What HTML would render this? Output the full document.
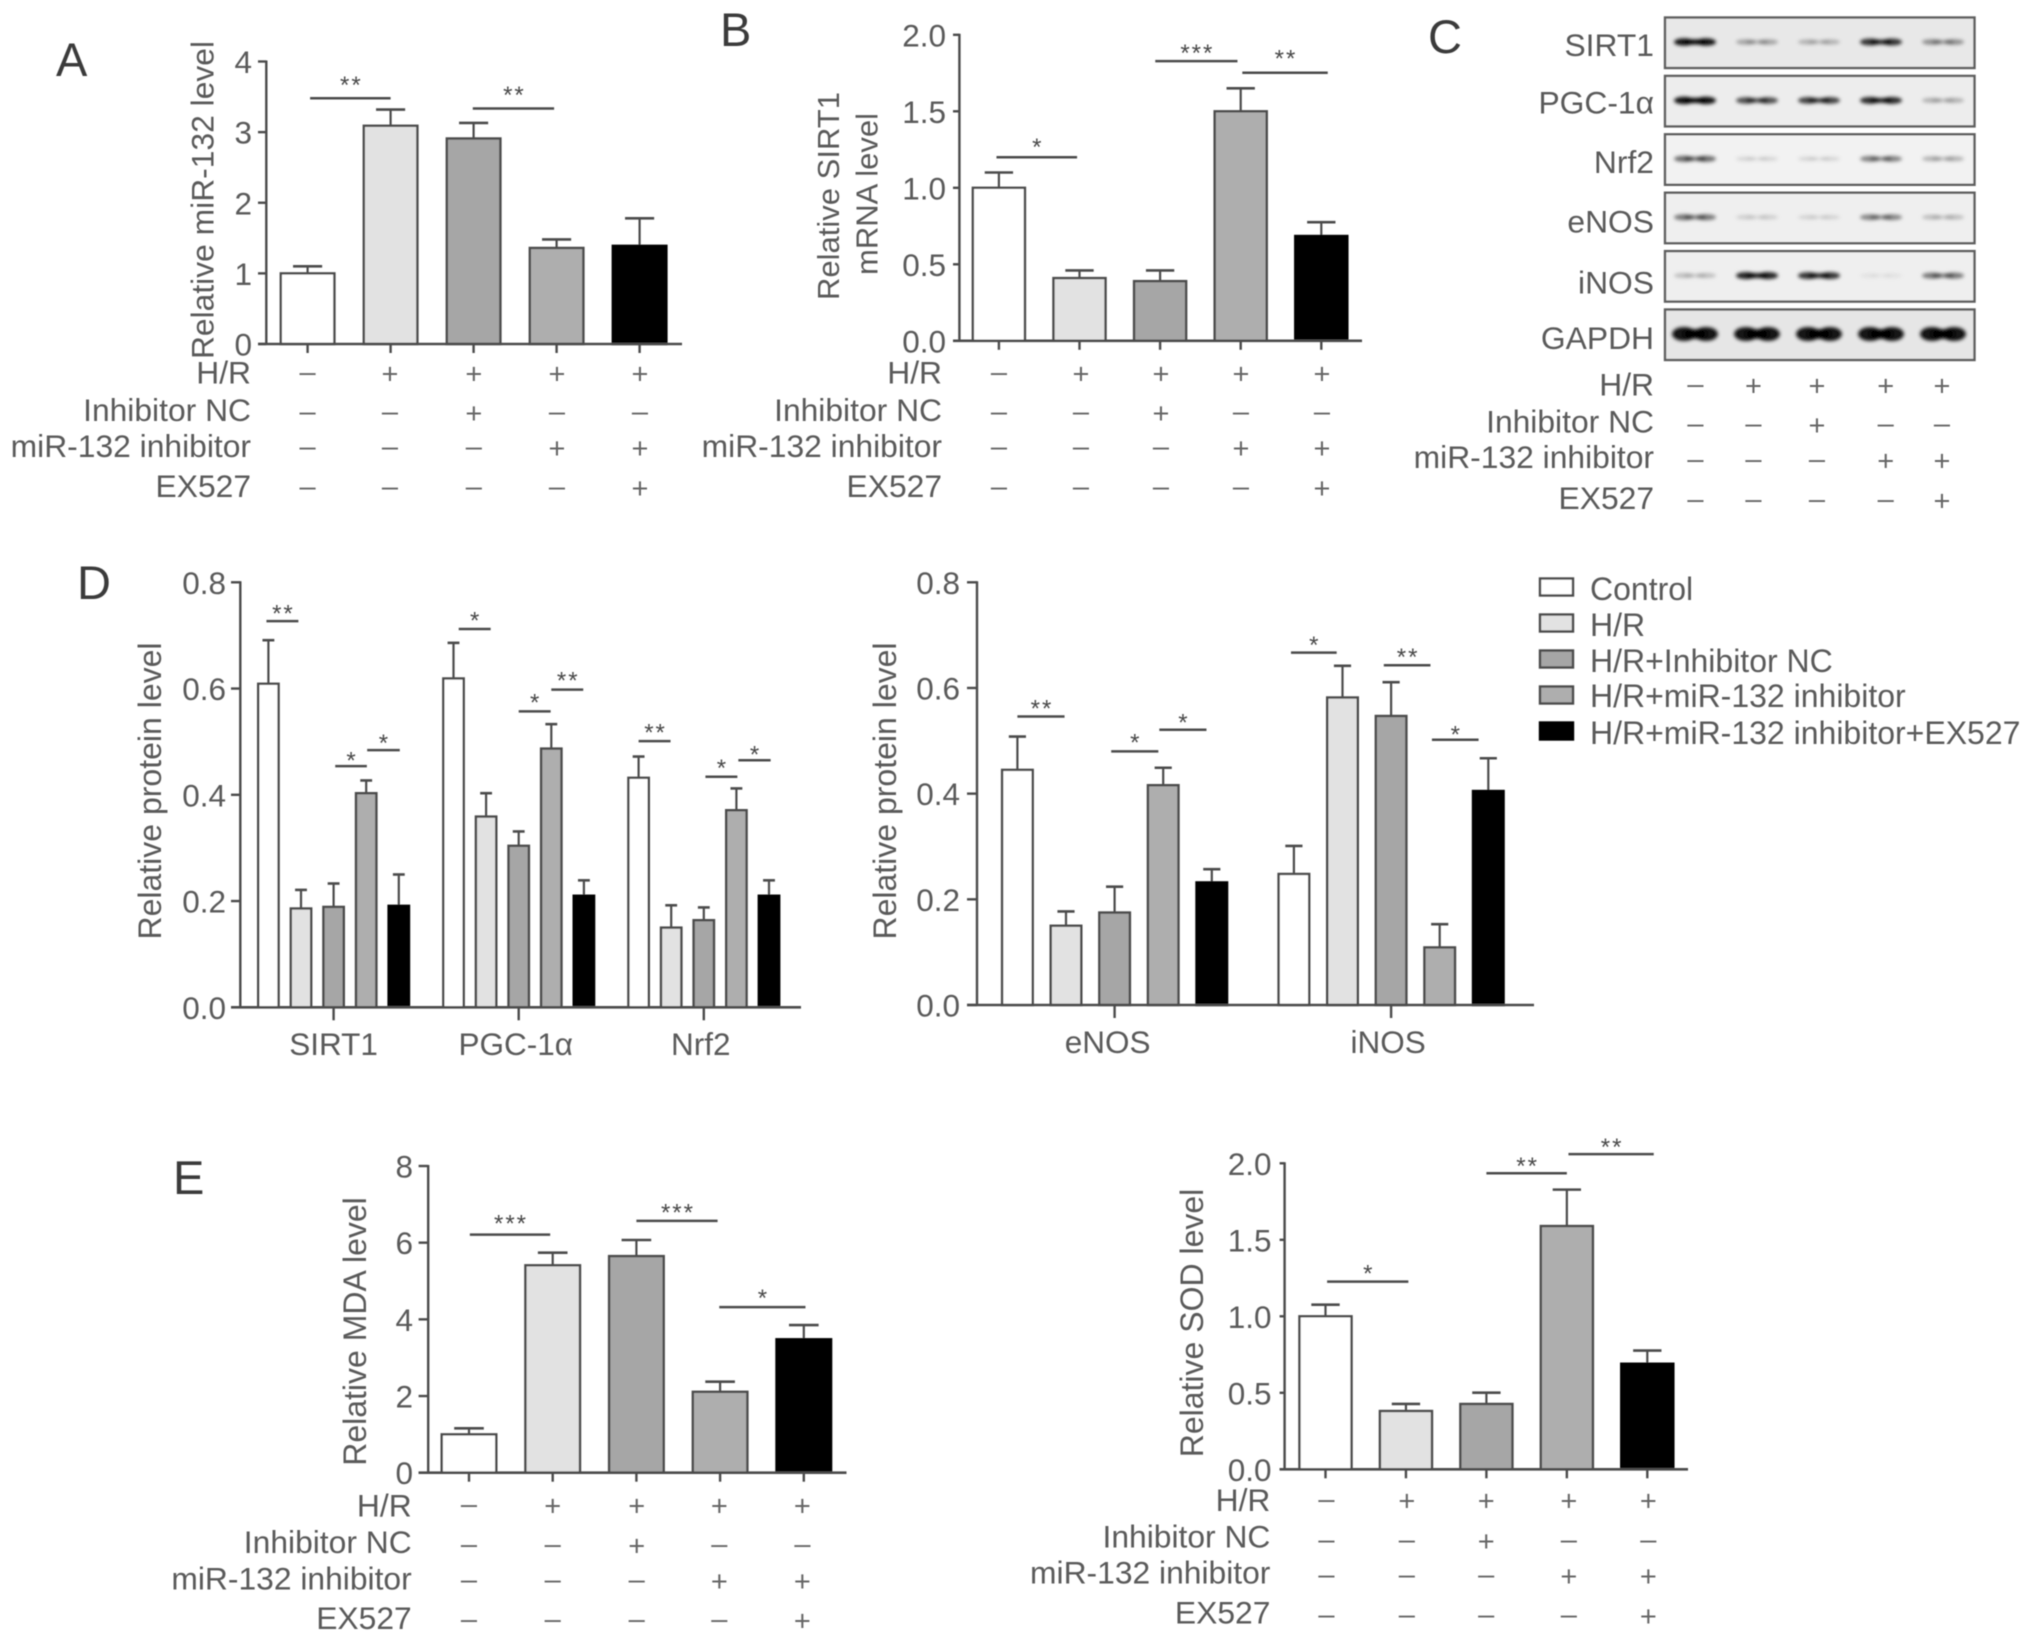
<!DOCTYPE html>
<html lang="en">
<head>
<meta charset="utf-8">
<title>H/R miR-132 inhibitor figure</title>
<style>
html,body{margin:0;padding:0;background:#fff}
svg{display:block}
text{font-family:"Liberation Sans",sans-serif}
</style>
</head>
<body>
<svg id="figure" xmlns="http://www.w3.org/2000/svg" width="2032" height="1642" viewBox="0 0 2032 1642">
  <defs>
    <filter id="soft" x="-2%" y="-2%" width="104%" height="104%"><feGaussianBlur stdDeviation="0.65"/></filter>
    <filter id="bandBlur" x="-30%" y="-100%" width="160%" height="300%"><feGaussianBlur stdDeviation="1.9"/></filter>
  </defs>
  <rect x="0" y="0" width="2032" height="1642" fill="#fff"/>
  <g id="root" filter="url(#soft)">
    <text x="56" y="76" font-size="47" fill="#3a3a3a">A</text>
    <text x="720" y="46" font-size="47" fill="#3a3a3a">B</text>
    <text x="1428" y="53" font-size="47" fill="#3a3a3a">C</text>
    <text x="77" y="599" font-size="47" fill="#3a3a3a">D</text>
    <text x="173" y="1194" font-size="47" fill="#3a3a3a">E</text>
  </g>
</svg>
<script>
// ---- shared categories ----
const treatmentNames = ['Control', 'H/R', 'H/R+Inhibitor NC', 'H/R+miR-132 inhibitor', 'H/R+miR-132 inhibitor+EX527'];
const treatmentFills = ['#ffffff', '#e2e2e2', '#a6a6a6', '#aeaeae', '#000000'];
const rowNames = ['H/R', 'Inhibitor NC', 'miR-132 inhibitor', 'EX527'];
const rowSigns = [
  ['–', '+', '+', '+', '+'],
  ['–', '–', '+', '–', '–'],
  ['–', '–', '–', '+', '+'],
  ['–', '–', '–', '–', '+']
];

// ---- panel A ----
const aTicks = ['0', '1', '2', '3', '4'];
const aValues = [1.0, 3.09, 2.91, 1.36, 1.39];
const aErrors = [0.1, 0.23, 0.22, 0.12, 0.39];
const aSig = [[0.03, 1.0, 3.48, 3.73, '**', 0], [1.99, 2.97, 3.335, 3.59, '**', 0]];

// ---- panel B ----
const bTicks = ['0.0', '0.5', '1.0', '1.5', '2.0'];
const bValues = [1.0, 0.41, 0.39, 1.5, 0.685];
const bErrors = [0.1, 0.05, 0.07, 0.15, 0.09];
const bSig = [[-0.03, 0.97, 1.2, 1.295, '*', 0], [1.94, 2.96, 1.828, 1.912, '***', 0], [3.02, 4.08, 1.752, 1.874, '**', 0]];

// ---- panel C (western blot band intensity, 0..1) ----
const blotTargets = ['SIRT1', 'PGC-1α', 'Nrf2', 'eNOS', 'iNOS', 'GAPDH'];
const blotSIRT1 = [1, 0.33, 0.26, 0.85, 0.42];
const blotPGC = [1, 0.72, 0.78, 0.88, 0.28];
const blotNrf2 = [0.6, 0.13, 0.13, 0.5, 0.28];
const blotENOS = [0.55, 0.15, 0.13, 0.48, 0.23];
const blotINOS = [0.23, 0.92, 0.85, 0.07, 0.55];
const blotGAPDH = [1, 1, 1, 1, 1];

// ---- panel D left ----
const dTicks = ['0.0', '0.2', '0.4', '0.6', '0.8'];
const dLeftGroups = ['SIRT1', 'PGC-1α', 'Nrf2'];
const dSirt1Values = [0.609, 0.186, 0.189, 0.403, 0.191];
const dSirt1Errors = [0.082, 0.035, 0.044, 0.024, 0.059];
const dPgcValues = [0.619, 0.359, 0.304, 0.487, 0.21];
const dPgcErrors = [0.067, 0.044, 0.027, 0.046, 0.029];
const dNrf2Values = [0.432, 0.15, 0.164, 0.371, 0.21];
const dNrf2Errors = [0.04, 0.042, 0.024, 0.041, 0.029];
const dLeftSig = [
  [-0.06, 0.92, 0.727, 0.75, '**', 0], [2.05, 3.02, 0.454, 0.473, '*', 0], [3.03, 4.03, 0.484, 0.506, '*', 0],
  [0.16, 1.14, 0.712, 0.737, '*', 1], [2.0, 2.98, 0.557, 0.582, '*', 1], [3.0, 3.98, 0.598, 0.624, '**', 1],
  [0.0, 0.98, 0.501, 0.526, '**', 2], [2.05, 3.03, 0.434, 0.459, '*', 2], [3.06, 4.05, 0.465, 0.484, '*', 2]
];

// ---- panel D right ----
const dRightGroups = ['eNOS', 'iNOS'];
const dEnosValues = [0.445, 0.15, 0.175, 0.416, 0.232];
const dEnosErrors = [0.063, 0.027, 0.049, 0.033, 0.025];
const dInosValues = [0.248, 0.582, 0.547, 0.109, 0.405];
const dInosErrors = [0.053, 0.06, 0.064, 0.044, 0.062];
const dRightSig = [
  [0.0, 0.97, 0.546, 0.57, '**', 0], [1.93, 2.9, 0.48, 0.505, '*', 0], [2.92, 3.89, 0.521, 0.543, '*', 0],
  [-0.06, 0.88, 0.667, 0.69, '*', 1], [1.85, 2.81, 0.643, 0.667, '**', 1], [2.84, 3.8, 0.502, 0.52, '*', 1]
];

// ---- panel E left ----
const eMdaTicks = ['0', '2', '4', '6', '8'];
const eMdaValues = [1.0, 5.41, 5.65, 2.11, 3.48];
const eMdaErrors = [0.157, 0.33, 0.42, 0.264, 0.37];
const eMdaSig = [[0.01, 0.97, 6.21, 6.62, '***', 0], [2.0, 2.97, 6.57, 6.9, '***', 0], [2.99, 4.02, 4.32, 4.67, '*', 0]];

// ---- panel E right ----
const eSodTicks = ['0.0', '0.5', '1.0', '1.5', '2.0'];
const eSodValues = [1.0, 0.381, 0.427, 1.59, 0.69];
const eSodErrors = [0.076, 0.046, 0.074, 0.238, 0.086];
const eSodSig = [[0.02, 1.03, 1.227, 1.31, '*', 0], [2.0, 3.0, 1.935, 2.011, '**', 0], [3.02, 4.08, 2.06, 2.137, '**', 0]];

// ---- helpers ----
const NS = 'http://www.w3.org/2000/svg';
const root = document.getElementById('root');
const INK = '#4c4c4c';
const TEXT = '#5a5a5a';

function mk(tag, attrs, parent) {
  const node = document.createElementNS(NS, tag);
  for (const k in attrs) node.setAttribute(k, attrs[k]);
  (parent || root).appendChild(node);
  return node;
}
function line(x1, y1, x2, y2, w, parent) {
  return mk('line', { x1: x1, y1: y1, x2: x2, y2: y2, stroke: INK, 'stroke-width': w }, parent);
}
function label(str, x, y, size, anchor, parent) {
  const node = mk('text', { x: x, y: y, 'font-size': size, 'text-anchor': anchor, fill: TEXT }, parent);
  node.textContent = str;
  return node;
}
function slug(str) {
  return str.toLowerCase().replace(/[^a-z0-9]+/g, '-').replace(/^-|-$/g, '');
}

// Draw one bar chart from value arrays through its axis functions
function drawChart(c, seriesValues, seriesErrors, ticks, sig, groupNames) {
  const g = mk('g', {});
  
  

  const axisMax = parseFloat(ticks[ticks.length - 1]);
  const yScale = function (v) { return c.y0 - (v / axisMax) * (c.y0 - c.yTop); };
  const xScale = function (group, i) { return c.xFirst + group * c.groupStep + i * c.barStep; };

  seriesValues.forEach(function (vals, gi) {
    vals.forEach(function (v, i) {
      const cx = xScale(gi, i);
      const top = yScale(v);
      const errTop = yScale(v + seriesErrors[gi][i]);
      const isBlack = i === 4;
      const whisker = line(cx, top, cx, errTop, 2.2, g);
      
      
      const cap = line(cx - c.barW * 0.26, errTop, cx + c.barW * 0.26, errTop, 2.6, g);
      
      
      const bar = mk('rect', {
        x: cx - c.barW / 2 + 1.2, y: top, width: c.barW - 2.4, height: Math.max(0, c.y0 - top),
        fill: treatmentFills[i], stroke: isBlack ? '#000' : INK, 'stroke-width': 2.4
      }, g);
      
      
    });
  });

  const yAxis = line(c.xAxis, c.yTop - 1, c.xAxis, c.y0, 2.4, g);
  
  
  const xAxis = line(c.tickLeft, c.y0, c.xEnd, c.y0, 2.6, g);
  
  

  ticks.forEach(function (t) {
    const ty = yScale(parseFloat(t));
    const mark = line(c.tickLeft, ty, c.xAxis, ty, 2.4, g);
    
    
    const tickText = label(t, c.tickRight, ty + 11.5, 31.5, 'end', g);
    
    
  });

  // x ticks: one per bar for single-group charts, one per group otherwise
  if (groupNames) {
    groupNames.forEach(function (name, gi) {
      const gx = xScale(gi, 2);
      const mark = line(gx, c.y0, gx, c.y0 + 13, 2.4, g);
      
      
      const groupText = label(name, gx + c.groupLabelShift[gi], c.groupBaseline, 31.5, 'middle', g);
      
      
    });
  } else {
    seriesValues[0].forEach(function (v, i) {
      const gx = xScale(0, i);
      const mark = line(gx, c.y0, gx, c.y0 + 9, 2.4, g);
      
      
    });
  }

  sig.forEach(function (s) {
    const x1 = xScale(s[5], s[0]);
    const x2 = xScale(s[5], s[1]);
    const ly = yScale(s[2]);
    const bracket = line(x1, ly, x2, ly, 2.5, g);
    
    
    const star = mk('text', { x: (x1 + x2) / 2 + 1, y: yScale(s[3]) + 12.5, 'font-size': 24, 'letter-spacing': 2, 'text-anchor': 'middle', fill: '#4a4a4a' }, g);
    star.textContent = s[4];
    
    
  });

  c.titles.forEach(function (t) {
    const title = label(t[0], 0, 0, c.titleSize, 'middle', g);
    title.setAttribute('transform', 'translate(' + t[1] + ' ' + t[2] + ') rotate(-90)');
    
    
  });
}

// Draw the +/– treatment table below a chart
function drawRows(c) {
  const g = mk('g', {});
  
  
  rowNames.forEach(function (name, r) {
    const rowText = label(name, c.right, c.baselines[r], 31.8, 'end', g);
    
    
    rowSigns[r].forEach(function (sign, col) {
      const isPlus = sign === '+';
      const signText = mk('text', {
        x: c.columns[col], y: c.centers[r] + (isPlus ? 10 : 8), 'font-size': 29, 'text-anchor': 'middle', fill: '#666'
      }, g);
      signText.textContent = sign;
      
      
    });
  });
}

// ---- charts ----
drawChart({
  name: 'panel-a-chart', xFirst: 307.6, barStep: 83, groupStep: 0, barW: 56,
  xAxis: 266.3, tickLeft: 258, tickRight: 252, xEnd: 682, y0: 344, yTop: 61.5, titleSize: 31.8,
  titles: [['Relative miR-132 level', 213.5, 200]]
}, [aValues], [aErrors], aTicks, aSig);
drawRows({
  name: 'panel-a-treatment-table', right: 251,
  baselines: [383.7, 421, 457, 497], centers: [373.6, 413, 448, 488],
  columns: [307.6, 390, 473.8, 557, 640]
});

drawChart({
  name: 'panel-b-chart', xFirst: 998.9, barStep: 80.6, groupStep: 0, barW: 54.5,
  xAxis: 959.4, tickLeft: 953, tickRight: 946, xEnd: 1362, y0: 340.8, yTop: 34.8, titleSize: 31,
  titles: [['Relative SIRT1', 839, 196], ['mRNA level', 877.7, 194]]
}, [bValues], [bErrors], bTicks, bSig);
drawRows({
  name: 'panel-b-treatment-table', right: 942,
  baselines: [383.7, 421, 457, 497], centers: [373.6, 413, 448, 488],
  columns: [999, 1081, 1161, 1241, 1322]
});

// Western blot
(function () {
  const blotRows = [blotSIRT1, blotPGC, blotNrf2, blotENOS, blotINOS, blotGAPDH];
  const g = mk('g', {});
  
  
  const rowTop = function (r) { return 17.5 + r * 58.4; };
  const laneX = function (l) { return 1695 + l * 62; };
  const shades = ['#e8e8e8', '#ededed', '#f2f2f2', '#efefef', '#efefef', '#e6e6e6'];
  blotRows.forEach(function (row, r) {
    const box = mk('rect', {
      x: 1665, y: rowTop(r), width: 309.5, height: 50.5, fill: shades[r], stroke: '#5e5e5e', 'stroke-width': 2.4
    }, g);
    
    
    const bandsGroup = mk('g', { filter: 'url(#bandBlur)' }, g);
    
    
    row.forEach(function (strength, l) {
      const cx = laneX(l);
      const cy = rowTop(r) + 24.5;
      const thick = 2 + strength * (r === 5 ? 5 : 1.8);
      [-11, 11].forEach(function (dx) {
        const blob = mk('ellipse', { cx: cx + dx, cy: cy, rx: r === 5 ? 12 : 10, ry: thick, fill: '#000', opacity: strength * 0.92 }, bandsGroup);
        
        
      });
      const linkOpacity = strength * (0.45 + 0.5 * strength);
      const link = mk('rect', { x: cx - 10, y: cy - thick * 0.7, width: 20, height: thick * 1.4, fill: '#000', opacity: linkOpacity }, bandsGroup);
      
      
    });
  });
  const labelBaselines = [55.8, 113.3, 173, 232.6, 293.4, 349];
  blotTargets.forEach(function (name, r) {
    const t = label(name, 1654, labelBaselines[r], 31.8, 'end', g);
    
    
  });
})();
drawRows({
  name: 'panel-c-treatment-table', right: 1654,
  baselines: [395.5, 432.7, 468, 508.8], centers: [385.4, 425, 460.5, 500.3],
  columns: [1695.4, 1753.5, 1817, 1885.7, 1942]
});

drawChart({
  name: 'panel-d-left-chart', xFirst: 268.4, barStep: 32.6, groupStep: 185.1, barW: 22.8,
  xAxis: 240.3, tickLeft: 231, tickRight: 226, xEnd: 801, y0: 1007.3, yTop: 582.3, groupBaseline: 1055, titleSize: 32,
  groupLabelShift: [0, -3, -3],
  titles: [['Relative protein level', 161, 791]]
}, [dSirt1Values, dPgcValues, dNrf2Values], [dSirt1Errors, dPgcErrors, dNrf2Errors], dTicks, dLeftSig, dLeftGroups);

drawChart({
  name: 'panel-d-right-chart', xFirst: 1017.4, barStep: 48.6, groupStep: 276.5, barW: 33,
  xAxis: 977, tickLeft: 967, tickRight: 960, xEnd: 1534, y0: 1005, yTop: 582.3, groupBaseline: 1053, titleSize: 32,
  groupLabelShift: [-7, -3],
  titles: [['Relative protein level', 896, 791]]
}, [dEnosValues, dInosValues], [dEnosErrors, dInosErrors], dTicks, dRightSig, dRightGroups);

// Legend
(function () {
  const g = mk('g', {});
  
  
  const rowY = function (i) { return 578.5 + i * 36; };
  treatmentNames.forEach(function (name, i) {
    const swatch = mk('rect', {
      x: 1540, y: rowY(i), width: 33, height: 17, fill: treatmentFills[i], stroke: i === 4 ? '#000' : INK, 'stroke-width': 2.4
    }, g);
    
    
    const t = label(name, 1590, rowY(i) + 21.5 + (i === 3 ? -1 : 0), 32, 'start', g);
    
    
  });
})();

drawChart({
  name: 'panel-e-mda-chart', xFirst: 469, barStep: 83.7, groupStep: 0, barW: 57,
  xAxis: 428.2, tickLeft: 418.6, tickRight: 413, xEnd: 846.5, y0: 1472.7, yTop: 1166, titleSize: 32,
  titles: [['Relative MDA level', 365.8, 1331.5]]
}, [eMdaValues], [eMdaErrors], eMdaTicks, eMdaSig);
drawRows({
  name: 'panel-e-mda-treatment-table', right: 411.7,
  baselines: [1516.7, 1553, 1589.3, 1629], centers: [1505.5, 1545.5, 1581, 1620.5],
  columns: [469, 552.7, 636.7, 719.3, 802.4]
});

drawChart({
  name: 'panel-e-sod-chart', xFirst: 1325.5, barStep: 80.45, groupStep: 0, barW: 54.5,
  xAxis: 1284.6, tickLeft: 1279.6, tickRight: 1271.5, xEnd: 1688, y0: 1469.3, yTop: 1163.3, titleSize: 32,
  titles: [['Relative SOD level', 1202.9, 1323]]
}, [eSodValues], [eSodErrors], eSodTicks, eSodSig);
drawRows({
  name: 'panel-e-sod-treatment-table', right: 1270.4,
  baselines: [1511, 1547.7, 1583.3, 1623.3], centers: [1500.5, 1541, 1576, 1616],
  columns: [1326.4, 1406.8, 1486.2, 1568.8, 1648.3]
});
</script>
</body>
</html>
